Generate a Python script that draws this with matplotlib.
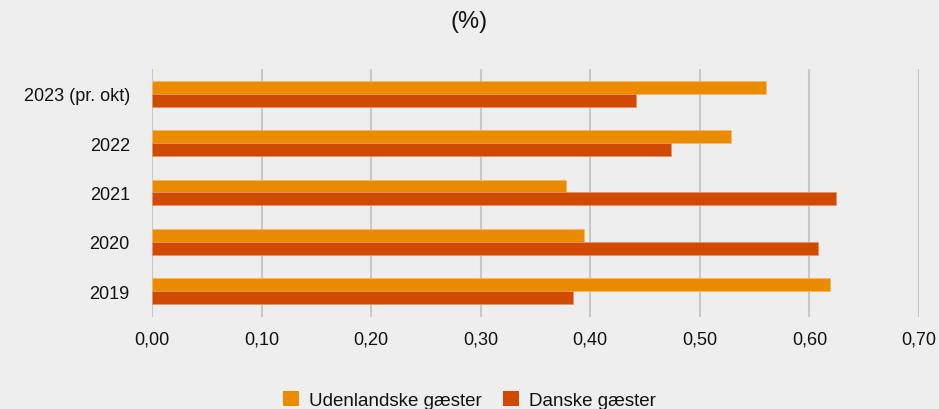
import matplotlib
matplotlib.use("Agg")
import matplotlib.pyplot as plt
from matplotlib.patches import Patch

plt.rcParams["font.family"] = ["Liberation Sans", "DejaVu Sans"]

aar = ["2019", "2020", "2021", "2022", "2023 (pr. okt)"]
udenlandske = [0.619, 0.394, 0.378, 0.528, 0.560]
danske = [0.384, 0.608, 0.624, 0.474, 0.442]
x_ticks = [0.0, 0.1, 0.2, 0.3, 0.4, 0.5, 0.6, 0.7]

ORANGE = "#EB8C00"
ROED = "#D04A02"
BG = "#EEEEEE"

fig = plt.figure(figsize=(9.39, 4.10), dpi=100, facecolor=BG)
ax = fig.add_axes([0.1619, 0.2244, 0.8168, 0.6049], facecolor=BG)

pos = list(range(len(aar)))
h = 0.262
ax.barh([p + h / 2 for p in pos], udenlandske, height=h, color=ORANGE,
        edgecolor="#F2B870", linewidth=0.6)
ax.barh([p - h / 2 for p in pos], danske, height=h, color=ROED,
        edgecolor="#E4936A", linewidth=0.6)

ax.set_xlim(0, 0.7)
ax.set_ylim(-0.52, 4.5)
ax.set_xticks(x_ticks)
ax.set_xticklabels([f"{v:.2f}".replace(".", ",") for v in x_ticks])
ax.set_yticks(pos)
ax.set_yticklabels(aar)
ax.tick_params(axis="both", length=0, labelsize=13, colors="#111111")
ax.tick_params(axis="y", pad=16)
ax.tick_params(axis="x", pad=10)
ax.grid(axis="x", color="#C8C8C8", linewidth=1.5)
ax.set_axisbelow(True)
for s in ax.spines.values():
    s.set_visible(False)

fig.text(0.5, 1 - 22 / 410, "(%)", ha="center", va="center", fontsize=17,
         color="#111111")

handles = [Patch(facecolor=ORANGE, edgecolor="none"),
           Patch(facecolor=ROED, edgecolor="none")]
fig.legend(handles, ["Udenlandske gæster", "Danske gæster"], loc="center",
           bbox_to_anchor=(0.5, 1 - 401 / 410), ncol=2, frameon=False,
           fontsize=13.5, handlelength=0.85, handleheight=0.85,
           handletextpad=0.56, columnspacing=1.1, labelcolor="#111111")

fig.savefig("out.png", dpi=100, facecolor=BG)
